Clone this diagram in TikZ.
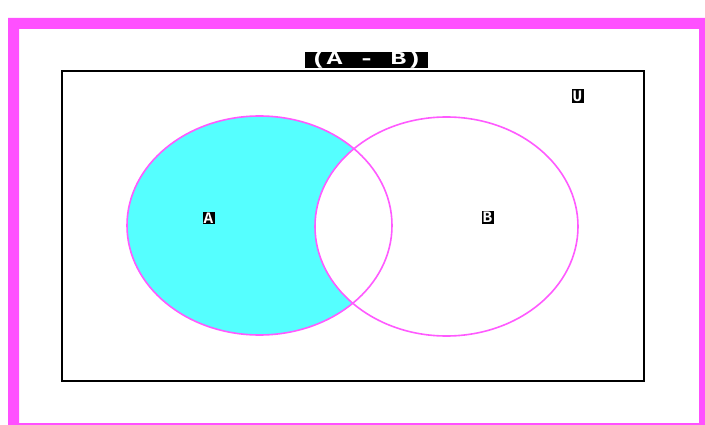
\documentclass[tikz,border=0pt]{standalone}
\usepackage{fontspec}
\setmonofont{Liberation Mono}
\definecolor{frame}{RGB}{255,80,255}
\definecolor{vcyan}{RGB}{85,255,255}
\definecolor{vline}{RGB}{255,90,255}
\tikzset{
  revlabel/.style={fill=black, text=white, inner sep=1.2pt, font=\ttfamily\bfseries\fontsize{16}{16}\selectfont},
  setline/.style={draw=vline, line width=1.6pt},
}
\begin{document}
\begin{tikzpicture}[x=1pt,y=-1pt]
\useasboundingbox (0,0) rectangle (705,425);
\fill[white] (0,0) rectangle (705,425);
% magenta frame
\fill[frame, even odd rule] (8,18) rectangle (705,426) (19,29) rectangle (699,423);
% universe
\draw[black, line width=1.8pt] (62,71) rectangle (644,381);
% sets
\fill[vcyan] (259.5,225.5) ellipse [x radius=132.5, y radius=109.5];
\fill[white] (446.5,226.5) ellipse [x radius=131.5, y radius=109.5];
\draw[setline] (259.5,225.5) ellipse [x radius=132.5, y radius=109.5];
\draw[setline] (446.5,226.5) ellipse [x radius=131.5, y radius=109.5];
% title
\node[fill=black, text=white, minimum width=123pt, minimum height=16pt, inner sep=0pt] (title) at (366.5,60)
  {\scalebox{1.9}[1.3]{\ttfamily\bfseries\fontsize{14}{14}\selectfont (A - B)}};
% labels
\node[revlabel] (labA) at (208.5,218) {A};
\node[revlabel] (labB) at (487.5,217.5) {B};
\node[revlabel] (labU) at (577.5,96) {U};
\end{tikzpicture}
\end{document}
